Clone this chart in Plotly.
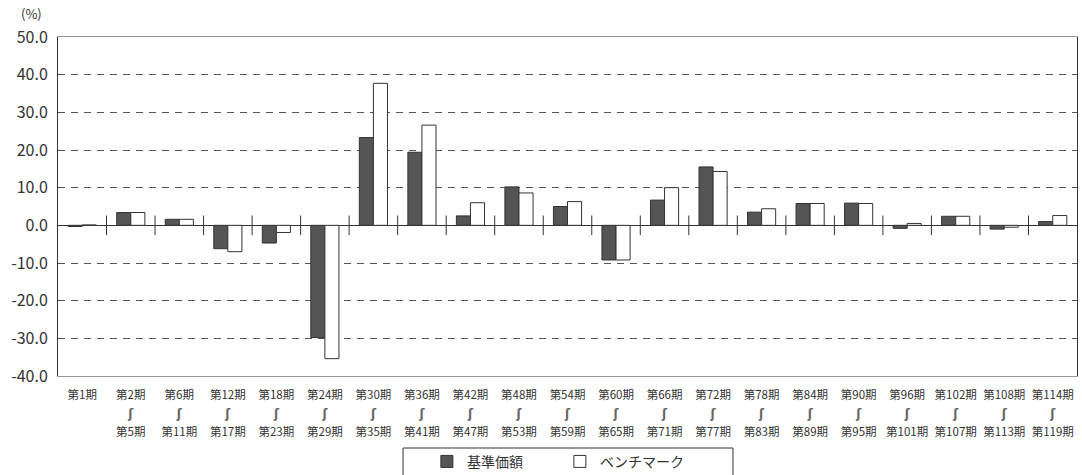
import plotly.graph_objects as go

periods_top = ["第1期", "第2期", "第6期", "第12期", "第18期", "第24期", "第30期", "第36期", "第42期",
               "第48期", "第54期", "第60期", "第66期", "第72期", "第78期", "第84期", "第90期",
               "第96期", "第102期", "第108期", "第114期"]
periods_bottom = ["", "第5期", "第11期", "第17期", "第23期", "第29期", "第35期", "第41期", "第47期",
                  "第53期", "第59期", "第65期", "第71期", "第77期", "第83期", "第89期", "第95期",
                  "第101期", "第107期", "第113期", "第119期"]
nav_values = [-0.3, 3.4, 1.6, -6.2, -4.7, -29.8, 23.3, 19.4, 2.5, 10.2, 5.0, -9.2, 6.7, 15.5,
              3.5, 5.8, 5.9, -0.8, 2.4, -1.0, 1.0]
bench_values = [0.1, 3.4, 1.6, -7.0, -1.9, -35.4, 37.7, 26.6, 6.0, 8.6, 6.3, -9.2, 10.0, 14.3,
                4.4, 5.8, 5.8, 0.5, 2.4, -0.5, 2.6]
y_ticks = [50, 40, 30, 20, 10, 0, -10, -20, -30, -40]

FONT = "Noto Sans CJK JP"
x = list(range(len(periods_top)))

def label(top, bottom):
    s = "<span style='font-size:11.5px'>" + top + "</span>"
    if bottom:
        s += ("<br><span style='font-size:12px;font-family:DejaVu Sans;font-weight:bold;color:#666666'>ʃ</span>"
              "<br><span style='font-size:11.5px'>" + bottom + "</span>")
    else:
        s += "<br> <br> "
    return s

ticktext = [label(t, b) for t, b in zip(periods_top, periods_bottom)]

fig = go.Figure()
fig.add_trace(go.Bar(x=x, y=nav_values, name="基準価額",
                     marker=dict(color="#555555", line=dict(color="#333333", width=1))))
fig.add_trace(go.Bar(x=x, y=bench_values, name="ベンチマーク",
                     marker=dict(color="#ffffff", line=dict(color="#333333", width=1))))
# boundary tick marks on the zero line
fig.add_trace(go.Scatter(x=[i + 0.5 for i in x[:-1]], y=[0] * (len(x) - 1), mode="markers",
                         marker=dict(symbol="line-ns", size=14, color="#333333",
                                     line=dict(color="#333333", width=1)),
                         showlegend=False, hoverinfo="skip"))

fig.update_layout(
    width=1082, height=475,
    margin=dict(l=58, r=5, t=37, b=99, autoexpand=False),
    paper_bgcolor="white", plot_bgcolor="white",
    barmode="group", bargap=0.42, bargroupgap=0,
    font=dict(family=FONT, color="#333333"),
    showlegend=True,
    legend=dict(orientation="h", x=0.362, xanchor="left", y=-0.206, yanchor="top",
                borderwidth=0, font=dict(size=14, color="#333333"),
                entrywidth=88, traceorder="normal", bgcolor="rgba(0,0,0,0)"),
    shapes=[dict(type="rect", xref="paper", yref="paper", x0=0.3386, x1=0.6624,
                 y0=-0.2124, y1=-0.32, line=dict(color="#333333", width=1),
                 fillcolor="rgba(0,0,0,0)", layer="below")],
    annotations=[dict(text="(%)", xref="paper", yref="paper", x=-0.038, y=1.068,
                      xanchor="left", yanchor="middle", showarrow=False,
                      font=dict(size=13, color="#333333"))],
)
fig.update_xaxes(range=[-0.5, len(x) - 0.5], tickvals=x, ticktext=ticktext, tickangle=0,
                 tickfont=dict(size=14.3, color="#333333"), showgrid=False, zeroline=False,
                 showline=True, linecolor="#999999", linewidth=1, mirror=True, ticks="",
                 ticklabelstandoff=5, automargin=False)
fig.update_yaxes(range=[-40, 50], tickvals=y_ticks, ticktext=[f"{v:.1f}" for v in y_ticks],
                 tickfont=dict(size=16, color="#333333"), showgrid=True, gridcolor="#555555",
                 griddash="7px,6px", gridwidth=1, zeroline=True, zerolinecolor="#333333",
                 zerolinewidth=1, showline=True, linecolor="#333333", linewidth=1, mirror=True,
                 ticks="", ticklabelstandoff=6, automargin=False)

fig.write_html("out.html")
